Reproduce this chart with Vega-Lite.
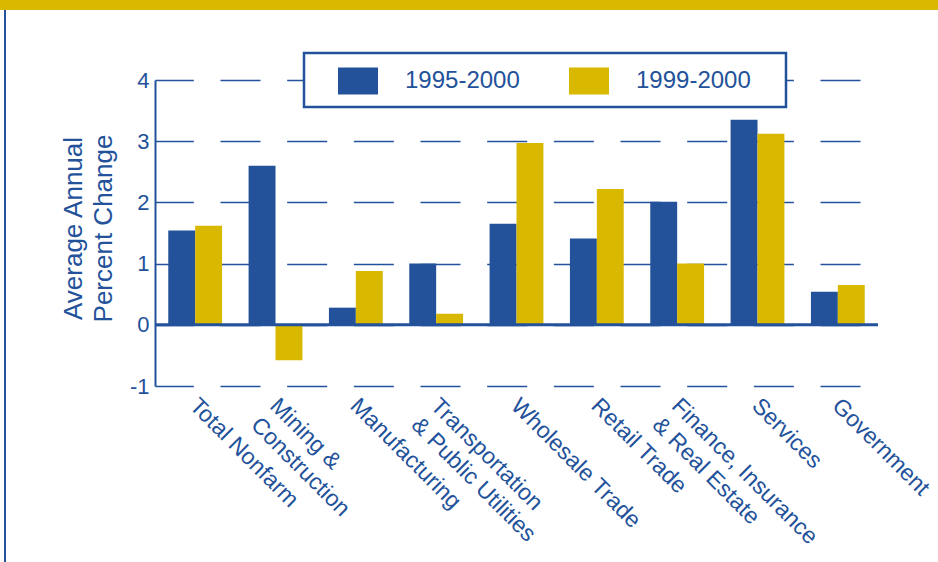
{
  "$schema": "https://vega.github.io/schema/vega-lite/v6.json",
  "padding": 0,
  "background": "white",
  "config": {
    "view": {"stroke": null},
    "font": "Liberation Sans",
    "axis": {"titleFontWeight": "normal"}
  },
  "datasets": {
    "jobs": [
      {"category": "Total Nonfarm", "series": "1995-2000", "value": 1.54},
      {"category": "Total Nonfarm", "series": "1999-2000", "value": 1.62},
      {"category": "Mining & Construction", "series": "1995-2000", "value": 2.60},
      {"category": "Mining & Construction", "series": "1999-2000", "value": -0.58},
      {"category": "Manufacturing", "series": "1995-2000", "value": 0.28},
      {"category": "Manufacturing", "series": "1999-2000", "value": 0.88},
      {"category": "Transportation & Public Utilities", "series": "1995-2000", "value": 1.00},
      {"category": "Transportation & Public Utilities", "series": "1999-2000", "value": 0.18},
      {"category": "Wholesale Trade", "series": "1995-2000", "value": 1.65},
      {"category": "Wholesale Trade", "series": "1999-2000", "value": 2.97},
      {"category": "Retail Trade", "series": "1995-2000", "value": 1.41},
      {"category": "Retail Trade", "series": "1999-2000", "value": 2.22},
      {"category": "Finance, Insurance & Real Estate", "series": "1995-2000", "value": 2.01},
      {"category": "Finance, Insurance & Real Estate", "series": "1999-2000", "value": 1.00},
      {"category": "Services", "series": "1995-2000", "value": 3.35},
      {"category": "Services", "series": "1999-2000", "value": 3.12},
      {"category": "Government", "series": "1995-2000", "value": 0.54},
      {"category": "Government", "series": "1999-2000", "value": 0.65}
    ]
  },
  "spacing": 0,
  "bounds": "flush",
  "vconcat": [
    {
      "width": 938, "height": 10,
      "view": {"fill": "#D9B800", "stroke": null},
      "data": {"values": []},
      "mark": {"type": "point", "opacity": 0}
    },
    {
      "spacing": 0,
      "bounds": "flush",
      "hconcat": [
        {"width": 4, "height": 552, "data": {"values": []}, "mark": {"type": "point", "opacity": 0}},
        {"width": 2, "height": 552, "view": {"fill": "#23529A", "stroke": null}, "data": {"values": []}, "mark": {"type": "point", "opacity": 0}},
        {"width": 149, "height": 552, "data": {"values": []}, "mark": {"type": "point", "opacity": 0}},
        {
          "spacing": 0,
          "bounds": "flush",
          "vconcat": [
            {"width": 723, "height": 70, "data": {"values": []}, "mark": {"type": "point", "opacity": 0}},
            {
              "width": 723,
              "height": 306,
              "layer": [
                {
                  "data": {"name": "jobs"},
                  "mark": {"type": "bar"},
                  "encoding": {
                    "x": {
                      "field": "category", "type": "nominal", "sort": null, "title": null,
                      "scale": {"paddingInner": 0.33, "paddingOuter": 0.165},
                      "axis": {
                        "domain": false, "ticks": false,
                        "labelAngle": 45, "labelAlign": "left", "labelBaseline": "top",
                        "labelFontSize": 23, "labelLineHeight": 27, "labelColor": "#23529A",
                        "labelPadding": 8, "labelOffset": 6, "labelLimit": 400, "labelOverlap": false,
                        "labelExpr": "datum.label == 'Mining & Construction' ? ['Mining &', 'Construction'] : datum.label == 'Transportation & Public Utilities' ? ['Transportation', '& Public Utilities'] : datum.label == 'Finance, Insurance & Real Estate' ? ['Finance, Insurance', '& Real Estate'] : datum.label"
                      }
                    },
                    "xOffset": {"field": "series", "type": "nominal", "scale": {"paddingInner": 0, "paddingOuter": 0}},
                    "y": {
                      "field": "value", "type": "quantitative",
                      "scale": {"domain": [-1, 4], "nice": false},
                      "axis": {
                        "values": [-1, 0, 1, 2, 3, 4],
                        "labelExpr": "'' + datum.value",
                        "grid": true, "gridColor": "#23529A", "gridWidth": 1.5,
                        "gridDash": [40, 26.67], "gridDashOffset": 1.67,
                        "ticks": false,
                        "domain": true, "domainColor": "#23529A", "domainWidth": 2,
                        "labelFontSize": 22, "labelColor": "#23529A", "labelPadding": 6,
                        "title": ["Average Annual", "Percent Change"],
                        "titleFontSize": 26, "titleColor": "#23529A", "titleLineHeight": 30,
                        "titleX": -69, "titleY": 148, "titleAngle": -90,
                        "titleAlign": "center", "titleBaseline": "bottom"
                      }
                    },
                    "color": {
                      "field": "series", "type": "nominal",
                      "scale": {"domain": ["1995-2000", "1999-2000"], "range": ["#23529A", "#D9B800"]},
                      "legend": {
                        "orient": "none", "legendX": 304, "legendY": 53,
                        "direction": "horizontal", "title": null,
                        "strokeColor": "#23529A", "fillColor": "white", "padding": 10,
                        "symbolType": "M-1.143,-0.771L1.143,-0.771L1.143,0.771L-1.143,0.771ZM0,0.886M10.67,0",
                        "symbolSize": 1225, "symbolStrokeWidth": 0, "symbolOpacity": 1,
                        "symbolOffset": 26.5,
                        "labelFontSize": 24, "labelColor": "#23529A", "labelOffset": 29.5,
                        "columnPadding": 0,
                        "encode": {"legend": {"update": {"strokeWidth": {"value": 2.5}}}}
                      }
                    }
                  }
                },
                {
                  "data": {"values": [{}]},
                  "mark": {"type": "rule", "color": "#23529A", "strokeWidth": 3},
                  "encoding": {"y": {"datum": 0}}
                }
              ]
            }
          ]
        }
      ]
    }
  ]
}
